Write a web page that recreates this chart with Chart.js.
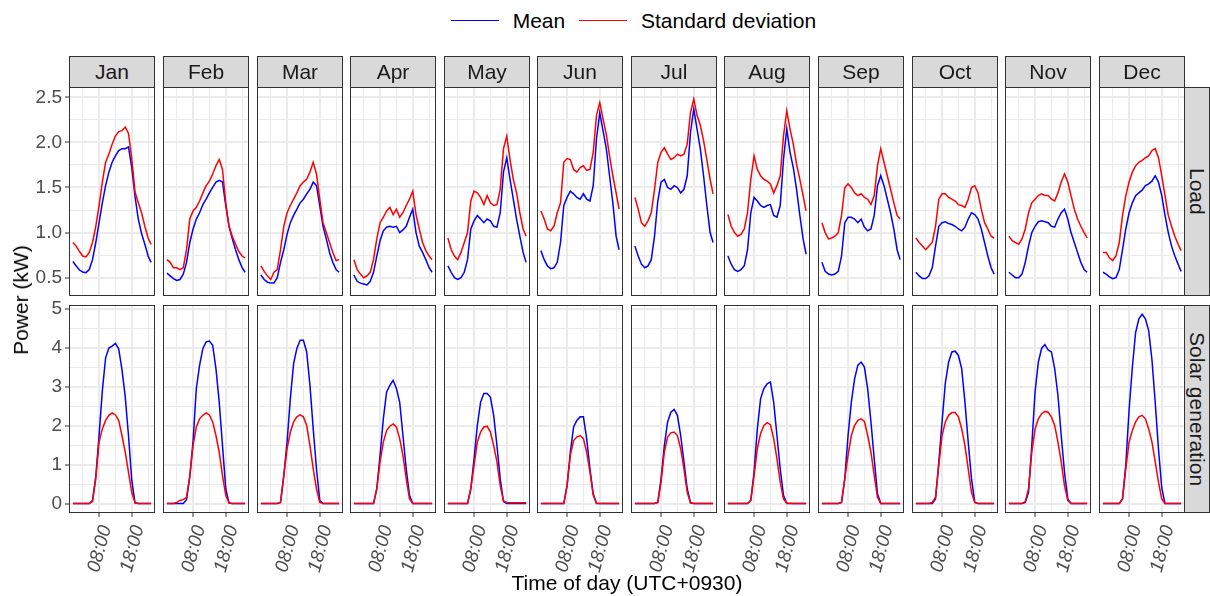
<!DOCTYPE html>
<html>
<head>
<meta charset="utf-8">
<script src="https://cdn.jsdelivr.net/npm/chart.js@4.4.1/dist/chart.umd.min.js"></script>
<style>
  body { margin: 0; background: #fff; font-family: "Liberation Sans", Arial, sans-serif; }
  #wrap { position: relative; width: 1210px; height: 596px; overflow: hidden; }
  .panel { position: absolute; }
  .panel canvas { display: block; }
  .strip { position: absolute; box-sizing: border-box; background: #d9d9d9; border: 1px solid #333;
           color: #1a1a1a; font-size: 21px; line-height: 24px; display: flex; align-items: center; justify-content: center; }
  .vstrip { writing-mode: vertical-rl; }
  .txt { position: absolute; font-size: 21px; line-height: 24px; color: #000; white-space: nowrap; }
  .key { position: absolute; height: 1.4px; }
</style>
</head>
<body>
<div id="wrap"></div>
<script>
// hours of the day at which the curves are sampled (last point = 23:55)
var HOURS = [0, 1, 2, 3, 4, 5, 6, 7, 8, 9, 10, 11, 12, 13, 14, 15, 16, 17, 18, 19, 20, 21, 22, 23, 23.92];
var MONTHS = ['Jan', 'Feb', 'Mar', 'Apr', 'May', 'Jun', 'Jul', 'Aug', 'Sep', 'Oct', 'Nov', 'Dec'];
var ROWS = ['Load', 'Solar generation'];
var SERIES = ['Mean', 'Standard deviation'];
var X_TICKS = [8, 18];
var X_TICK_LABELS = ['08:00', '18:00'];

// Load (kW)
var loadMeanJan = [0.68, 0.63, 0.585, 0.563, 0.556, 0.59, 0.70, 0.89, 1.11, 1.33, 1.52, 1.67, 1.78, 1.85, 1.91, 1.93, 1.93, 1.95, 1.72, 1.40, 1.15, 0.99, 0.87, 0.74, 0.67];
var loadSdJan   = [0.89, 0.85, 0.79, 0.74, 0.73, 0.78, 0.89, 1.07, 1.30, 1.56, 1.78, 1.87, 1.98, 2.07, 2.12, 2.13, 2.17, 2.10, 1.82, 1.45, 1.33, 1.22, 1.07, 0.94, 0.87];
var loadMeanFeb = [0.55, 0.52, 0.49, 0.47, 0.48, 0.54, 0.67, 0.89, 1.04, 1.15, 1.22, 1.31, 1.37, 1.44, 1.50, 1.56, 1.58, 1.56, 1.30, 1.07, 0.93, 0.81, 0.70, 0.61, 0.56];
var loadSdFeb   = [0.70, 0.67, 0.61, 0.61, 0.59, 0.61, 0.81, 1.15, 1.24, 1.28, 1.35, 1.44, 1.52, 1.57, 1.65, 1.74, 1.81, 1.70, 1.33, 1.07, 0.96, 0.87, 0.79, 0.74, 0.72];
var loadMeanMar = [0.53, 0.48, 0.45, 0.44, 0.44, 0.50, 0.67, 0.81, 0.98, 1.11, 1.19, 1.26, 1.33, 1.37, 1.43, 1.48, 1.56, 1.52, 1.30, 1.07, 0.93, 0.78, 0.67, 0.59, 0.56];
var loadSdMar   = [0.63, 0.57, 0.52, 0.48, 0.56, 0.59, 0.81, 1.07, 1.22, 1.30, 1.37, 1.44, 1.52, 1.56, 1.59, 1.67, 1.78, 1.65, 1.37, 1.11, 1.00, 0.89, 0.78, 0.69, 0.70];
var loadMeanApr = [0.53, 0.46, 0.44, 0.43, 0.42, 0.46, 0.56, 0.74, 0.91, 1.02, 1.06, 1.07, 1.06, 1.07, 1.00, 1.03, 1.07, 1.17, 1.26, 1.00, 0.85, 0.78, 0.70, 0.61, 0.56];
var loadSdApr   = [0.70, 0.59, 0.54, 0.50, 0.52, 0.56, 0.70, 0.93, 1.11, 1.17, 1.24, 1.28, 1.20, 1.26, 1.17, 1.22, 1.30, 1.37, 1.46, 1.20, 1.04, 0.89, 0.80, 0.74, 0.70];
var loadMeanMay = [0.63, 0.56, 0.50, 0.48, 0.50, 0.56, 0.70, 1.04, 1.13, 1.19, 1.15, 1.11, 1.15, 1.13, 1.07, 1.06, 1.22, 1.67, 1.83, 1.59, 1.37, 1.15, 0.96, 0.78, 0.67];
var loadSdMay   = [0.94, 0.81, 0.74, 0.70, 0.78, 0.89, 1.00, 1.35, 1.46, 1.44, 1.39, 1.31, 1.41, 1.33, 1.30, 1.31, 1.48, 1.93, 2.07, 1.81, 1.59, 1.44, 1.22, 1.04, 0.96];
var loadMeanJun = [0.80, 0.70, 0.63, 0.60, 0.61, 0.67, 0.89, 1.30, 1.39, 1.46, 1.43, 1.39, 1.37, 1.43, 1.37, 1.35, 1.52, 2.04, 2.33, 2.13, 1.93, 1.63, 1.33, 0.96, 0.81];
var loadSdJun   = [1.24, 1.15, 1.04, 1.02, 1.07, 1.22, 1.33, 1.78, 1.82, 1.81, 1.70, 1.67, 1.72, 1.74, 1.69, 1.70, 1.89, 2.30, 2.44, 2.26, 2.09, 1.85, 1.63, 1.44, 1.26];
var loadMeanJul = [0.85, 0.74, 0.65, 0.61, 0.63, 0.70, 0.96, 1.35, 1.56, 1.59, 1.50, 1.48, 1.52, 1.50, 1.44, 1.48, 1.63, 2.11, 2.37, 2.15, 1.93, 1.63, 1.30, 1.00, 0.89];
var loadSdJul   = [1.39, 1.26, 1.11, 1.07, 1.13, 1.22, 1.48, 1.78, 1.89, 1.94, 1.87, 1.81, 1.83, 1.87, 1.85, 1.87, 1.98, 2.33, 2.48, 2.30, 2.19, 2.02, 1.81, 1.59, 1.43];
var loadMeanAug = [0.74, 0.65, 0.59, 0.57, 0.59, 0.63, 0.81, 1.22, 1.39, 1.35, 1.30, 1.28, 1.30, 1.31, 1.19, 1.17, 1.30, 1.81, 2.15, 1.89, 1.72, 1.48, 1.19, 0.93, 0.76];
var loadSdAug   = [1.20, 1.07, 1.00, 0.96, 0.98, 1.04, 1.22, 1.59, 1.85, 1.70, 1.63, 1.59, 1.57, 1.54, 1.44, 1.52, 1.63, 2.07, 2.35, 2.15, 1.98, 1.76, 1.59, 1.41, 1.24];
var loadMeanSep = [0.67, 0.57, 0.54, 0.53, 0.54, 0.57, 0.74, 1.11, 1.17, 1.17, 1.15, 1.11, 1.15, 1.06, 1.02, 1.04, 1.19, 1.52, 1.63, 1.52, 1.37, 1.22, 1.04, 0.81, 0.70];
var loadSdSep   = [1.11, 1.00, 0.93, 0.94, 0.96, 1.00, 1.19, 1.50, 1.54, 1.50, 1.44, 1.41, 1.43, 1.39, 1.37, 1.31, 1.41, 1.74, 1.93, 1.78, 1.63, 1.48, 1.33, 1.19, 1.15];
var loadMeanOct = [0.56, 0.52, 0.49, 0.49, 0.52, 0.61, 0.85, 1.07, 1.11, 1.12, 1.10, 1.09, 1.07, 1.04, 1.02, 1.06, 1.15, 1.22, 1.20, 1.15, 1.04, 0.89, 0.74, 0.61, 0.54];
var loadSdOct   = [0.94, 0.89, 0.85, 0.81, 0.85, 0.89, 1.07, 1.37, 1.43, 1.43, 1.39, 1.37, 1.35, 1.31, 1.30, 1.28, 1.37, 1.50, 1.52, 1.44, 1.26, 1.11, 1.04, 0.96, 0.94];
var loadMeanNov = [0.56, 0.53, 0.50, 0.50, 0.54, 0.67, 0.85, 1.00, 1.07, 1.12, 1.13, 1.12, 1.11, 1.07, 1.06, 1.15, 1.22, 1.26, 1.15, 1.00, 0.89, 0.78, 0.67, 0.59, 0.56];
var loadSdNov   = [0.96, 0.91, 0.89, 0.87, 0.93, 1.04, 1.22, 1.33, 1.37, 1.41, 1.43, 1.41, 1.41, 1.37, 1.35, 1.44, 1.56, 1.65, 1.56, 1.41, 1.26, 1.15, 1.07, 1.00, 0.94];
var loadMeanDec = [0.56, 0.54, 0.51, 0.49, 0.50, 0.59, 0.81, 1.04, 1.22, 1.33, 1.41, 1.44, 1.47, 1.52, 1.54, 1.57, 1.63, 1.56, 1.41, 1.19, 1.00, 0.85, 0.74, 0.65, 0.57];
var loadSdDec   = [0.78, 0.78, 0.72, 0.69, 0.74, 0.89, 1.19, 1.41, 1.56, 1.67, 1.74, 1.78, 1.80, 1.83, 1.85, 1.91, 1.93, 1.83, 1.63, 1.41, 1.19, 1.07, 0.96, 0.87, 0.80];

// Solar generation (kW)
var solarMeanJan = [0, 0, 0, 0, 0, 0, 0.08, 0.70, 1.75, 2.90, 3.75, 4.00, 4.05, 4.12, 3.98, 3.45, 2.75, 1.75, 0.60, 0.02, 0, 0, 0, 0, 0];
var solarSdJan   = [0, 0, 0, 0, 0, 0, 0.05, 0.64, 1.58, 1.92, 2.14, 2.27, 2.33, 2.28, 2.14, 1.75, 1.32, 0.81, 0.29, 0.02, 0, 0, 0, 0, 0];
var solarMeanFeb = [0, 0, 0, 0, 0, 0, 0.10, 0.70, 1.60, 2.96, 3.56, 3.99, 4.16, 4.18, 4.07, 3.47, 2.61, 1.49, 0.38, 0.01, 0, 0, 0, 0, 0];
var solarSdFeb   = [0, 0, 0, 0.03, 0.08, 0.10, 0.16, 0.70, 1.50, 1.97, 2.18, 2.27, 2.33, 2.28, 2.10, 1.75, 1.32, 0.72, 0.21, 0.02, 0, 0, 0, 0, 0];
var solarMeanMar = [0, 0, 0, 0, 0, 0, 0.03, 0.72, 1.58, 2.70, 3.60, 3.99, 4.20, 4.20, 3.90, 3.04, 1.92, 0.89, 0.08, 0, 0, 0, 0, 0, 0];
var solarSdMar   = [0, 0, 0, 0, 0, 0, 0.03, 0.72, 1.41, 1.84, 2.10, 2.23, 2.28, 2.23, 2.01, 1.49, 0.89, 0.38, 0.03, 0, 0, 0, 0, 0, 0];
var solarMeanApr = [0, 0, 0, 0, 0, 0, 0, 0.38, 1.24, 2.18, 2.87, 3.04, 3.17, 2.96, 2.61, 1.75, 0.89, 0.21, 0, 0, 0, 0, 0, 0, 0];
var solarSdApr   = [0, 0, 0, 0, 0, 0, 0, 0.38, 1.07, 1.58, 1.88, 1.99, 2.05, 1.97, 1.67, 1.24, 0.64, 0.12, 0, 0, 0, 0, 0, 0, 0];
var solarMeanMay = [0, 0, 0, 0, 0, 0, 0, 0.38, 1.15, 2.01, 2.61, 2.83, 2.83, 2.74, 2.27, 1.49, 0.64, 0.05, 0, 0, 0, 0, 0, 0, 0];
var solarSdMay   = [0, 0, 0, 0, 0, 0, 0, 0.38, 0.98, 1.58, 1.84, 1.97, 1.99, 1.84, 1.49, 1.07, 0.46, 0.07, 0.03, 0.02, 0.02, 0.02, 0.02, 0.02, 0.02];
var solarMeanJun = [0, 0, 0, 0, 0, 0, 0, 0, 0.46, 1.32, 1.97, 2.14, 2.23, 2.23, 1.67, 0.89, 0.25, 0, 0, 0, 0, 0, 0, 0, 0];
var solarSdJun   = [0, 0, 0, 0, 0, 0, 0, 0, 0.46, 1.24, 1.62, 1.71, 1.75, 1.67, 1.32, 0.81, 0.21, 0.01, 0, 0, 0, 0, 0, 0, 0];
var solarMeanJul = [0, 0, 0, 0, 0, 0, 0, 0.03, 0.64, 1.49, 2.10, 2.35, 2.42, 2.27, 1.75, 1.07, 0.38, 0.02, 0, 0, 0, 0, 0, 0, 0];
var solarSdJul   = [0, 0, 0, 0, 0, 0, 0, 0.03, 0.55, 1.32, 1.71, 1.82, 1.84, 1.75, 1.41, 0.89, 0.29, 0.02, 0, 0, 0, 0, 0, 0, 0];
var solarMeanAug = [0, 0, 0, 0, 0, 0, 0, 0.08, 0.81, 1.92, 2.70, 2.96, 3.08, 3.13, 2.61, 1.75, 0.89, 0.21, 0, 0, 0, 0, 0, 0, 0];
var solarSdAug   = [0, 0, 0, 0, 0, 0, 0, 0.08, 0.72, 1.41, 1.80, 2.01, 2.08, 2.03, 1.67, 1.15, 0.55, 0.12, 0.01, 0.01, 0, 0, 0, 0, 0];
var solarMeanSep = [0, 0, 0, 0, 0, 0, 0.03, 0.64, 1.75, 2.61, 3.21, 3.56, 3.64, 3.51, 2.95, 2.10, 1.15, 0.25, 0, 0, 0, 0, 0, 0, 0];
var solarSdSep   = [0, 0, 0, 0, 0, 0, 0.03, 0.64, 1.24, 1.75, 2.01, 2.14, 2.18, 2.11, 1.75, 1.32, 0.72, 0.16, 0, 0, 0, 0, 0, 0, 0];
var solarMeanOct = [0, 0, 0, 0, 0, 0, 0.12, 1.07, 2.10, 3.10, 3.64, 3.90, 3.92, 3.81, 3.47, 2.61, 1.58, 0.64, 0.03, 0, 0, 0, 0, 0, 0];
var solarSdOct   = [0, 0, 0, 0, 0, 0.03, 0.16, 0.98, 1.75, 2.10, 2.27, 2.34, 2.34, 2.23, 1.92, 1.49, 0.89, 0.29, 0.03, 0, 0, 0, 0, 0, 0];
var solarMeanNov = [0, 0, 0, 0, 0, 0.03, 0.29, 1.49, 2.87, 3.64, 3.99, 4.09, 3.95, 3.90, 3.47, 2.78, 1.75, 0.81, 0.12, 0, 0, 0, 0, 0, 0];
var solarSdNov   = [0, 0, 0, 0, 0, 0.05, 0.38, 1.32, 1.92, 2.18, 2.31, 2.37, 2.35, 2.23, 2.01, 1.58, 1.07, 0.46, 0.08, 0, 0, 0, 0, 0, 0];
var solarMeanDec = [0, 0, 0, 0, 0, 0, 0.12, 1.00, 2.40, 3.50, 4.40, 4.75, 4.87, 4.75, 4.45, 3.70, 2.60, 1.40, 0.40, 0, 0, 0, 0, 0, 0];
var solarSdDec   = [0, 0, 0, 0, 0, 0, 0.12, 0.89, 1.58, 1.88, 2.10, 2.23, 2.27, 2.18, 1.92, 1.58, 1.07, 0.55, 0.12, 0, 0, 0, 0, 0, 0];

var LOAD_MEAN = [loadMeanJan, loadMeanFeb, loadMeanMar, loadMeanApr, loadMeanMay, loadMeanJun, loadMeanJul, loadMeanAug, loadMeanSep, loadMeanOct, loadMeanNov, loadMeanDec];
var LOAD_SD = [loadSdJan, loadSdFeb, loadSdMar, loadSdApr, loadSdMay, loadSdJun, loadSdJul, loadSdAug, loadSdSep, loadSdOct, loadSdNov, loadSdDec];
var SOLAR_MEAN = [solarMeanJan, solarMeanFeb, solarMeanMar, solarMeanApr, solarMeanMay, solarMeanJun, solarMeanJul, solarMeanAug, solarMeanSep, solarMeanOct, solarMeanNov, solarMeanDec];
var SOLAR_SD = [solarSdJan, solarSdFeb, solarSdMar, solarSdApr, solarSdMay, solarSdJun, solarSdJul, solarSdAug, solarSdSep, solarSdOct, solarSdNov, solarSdDec];

// layout
var FONT = '"Liberation Sans", Arial, sans-serif';
var BLUE = '#0000FF', RED = '#FF0000';
var PANEL_W = 86, COL_STEP = 93.6, FIRST_LEFT = 69.3;
var ROW_TOP = [87, 305], ROW_H = [209, 208];
var Y_AXIS_W = 69, X_AXIS_H = 75, TOP_ROOM = 12;
var X_MIN = -1.196, X_MAX = 25.11;
var Y_RANGE = [[0.297, 2.614], [-0.243, 5.108]];
var X_GRID = [3, 8, 13, 18, 23];
var Y_GRID = [
  [0.5, 0.75, 1, 1.25, 1.5, 1.75, 2, 2.25, 2.5],
  [0, 0.5, 1, 1.5, 2, 2.5, 3, 3.5, 4, 4.5, 5]
];

var wrap = document.getElementById('wrap');

function colLeft(i) { return Math.round(FIRST_LEFT + i * COL_STEP); }

function addText(cls, text, css) {
  var d = document.createElement('div');
  d.className = cls;
  d.textContent = text;
  for (var k in css) d.style[k] = css[k];
  wrap.appendChild(d);
  return d;
}

// frame around each panel
var panelBorder = {
  id: 'panelBorder',
  afterDraw: function (chart) {
    var a = chart.chartArea, c = chart.ctx;
    c.save();
    c.strokeStyle = '#333333';
    c.lineWidth = 1;
    c.strokeRect(a.left + 0.5, a.top + 0.5, a.right - a.left - 1, a.bottom - a.top - 1);
    c.restore();
  }
};

function isMajorY(row, v) {
  return row === 0 ? Math.abs(v * 2 - Math.round(v * 2)) < 1e-6 : Math.abs(v - Math.round(v)) < 1e-6;
}

function makePanel(col, row) {
  var isLeft = col === 0, isBottom = row === 1;
  var yw = isLeft ? Y_AXIS_W : 0, xh = isBottom ? X_AXIS_H : 0;
  var top = isLeft ? TOP_ROOM : 0;   // room for the top tick label
  var w = PANEL_W + yw, h = ROW_H[row] + xh + top;

  var div = document.createElement('div');
  div.className = 'panel';
  div.style.left = (colLeft(col) - yw) + 'px';
  div.style.top = (ROW_TOP[row] - top) + 'px';
  div.style.width = w + 'px';
  div.style.height = h + 'px';
  var canvas = document.createElement('canvas');
  canvas.width = w;
  canvas.height = h;
  div.appendChild(canvas);
  wrap.appendChild(div);

  var mean = row === 0 ? LOAD_MEAN[col] : SOLAR_MEAN[col];
  var sd = row === 0 ? LOAD_SD[col] : SOLAR_SD[col];

  new Chart(canvas, {
    type: 'line',
    data: {
      datasets: [
        { label: SERIES[0], data: HOURS.map(function (x, k) { return { x: x, y: mean[k] }; }), borderColor: BLUE, order: 1 },
        { label: SERIES[1], data: HOURS.map(function (x, k) { return { x: x, y: sd[k] }; }), borderColor: RED, order: 0 }
      ]
    },
    options: {
      responsive: false,
      animation: false,
      devicePixelRatio: 1,
      events: [],
      layout: { padding: { top: top, left: 0, right: 0, bottom: 0 } },
      elements: { point: { radius: 0 }, line: { borderWidth: 1.5, tension: 0 } },
      plugins: { legend: { display: false }, tooltip: { enabled: false } },
      scales: {
        x: {
          type: 'linear', min: X_MIN, max: X_MAX,
          afterBuildTicks: function (s) { s.ticks = X_GRID.map(function (v) { return { value: v }; }); },
          afterFit: function (s) { s.height = xh; s.paddingLeft = 0; s.paddingRight = 0; },
          border: { display: false },
          grid: {
            color: '#EBEBEB',
            lineWidth: function (c) { return c.tick && X_TICKS.indexOf(c.tick.value) >= 0 ? 2 : 1; },
            drawTicks: isBottom, tickLength: 4, tickWidth: 1,
            tickColor: function (c) { return c.tick && X_TICKS.indexOf(c.tick.value) >= 0 ? '#333333' : 'rgba(0,0,0,0)'; }
          },
          ticks: {
            display: isBottom, autoSkip: false, minRotation: 75, maxRotation: 75,
            padding: 6, labelOffset: 7, color: '#4D4D4D',
            font: { family: FONT, size: 19, style: 'italic' },
            callback: function (v) { var i = X_TICKS.indexOf(v); return i >= 0 ? X_TICK_LABELS[i] : ''; }
          }
        },
        y: {
          type: 'linear', min: Y_RANGE[row][0], max: Y_RANGE[row][1],
          afterBuildTicks: function (s) { s.ticks = Y_GRID[row].map(function (v) { return { value: v }; }); },
          afterFit: function (s) { s.width = yw; s.paddingTop = 0; s.paddingBottom = 0; },
          border: { display: false },
          grid: {
            color: '#EBEBEB',
            lineWidth: function (c) { return c.tick && isMajorY(row, c.tick.value) ? 2 : 1; },
            drawTicks: isLeft, tickLength: 4, tickWidth: 1,
            tickColor: function (c) { return c.tick && isMajorY(row, c.tick.value) ? '#333333' : 'rgba(0,0,0,0)'; }
          },
          ticks: {
            display: isLeft, autoSkip: false, padding: 3, color: '#4D4D4D',
            font: { family: FONT, size: 19 },
            callback: function (v) {
              if (!isMajorY(row, v)) return '';
              return row === 0 ? v.toFixed(1) : String(Math.round(v));
            }
          }
        }
      }
    },
    plugins: [panelBorder]
  });
}

for (var r = 0; r < ROWS.length; r++) {
  for (var c = 0; c < MONTHS.length; c++) makePanel(c, r);
}

// month strips on top
MONTHS.forEach(function (m, i) {
  addText('strip', m, { left: colLeft(i) + 'px', top: '56px', width: PANEL_W + 'px', height: '32px' });
});
// row strips on the right
ROWS.forEach(function (name, r) {
  addText('strip vstrip', name, { left: '1184px', top: ROW_TOP[r] + 'px', width: '26px', height: ROW_H[r] + 'px' });
});

// axis titles
addText('txt', 'Time of day (UTC+0930)', { left: '627px', top: '571px', transform: 'translateX(-50%)' });
addText('txt', 'Power (kW)', { left: '21px', top: '300px', transform: 'translate(-50%, -50%) rotate(-90deg)' });

// legend
var keys = [
  { color: BLUE, line: 451, text: 512.7 },
  { color: RED, line: 579, text: 641 }
];
keys.forEach(function (k, i) {
  var l = document.createElement('div');
  l.className = 'key';
  l.style.left = k.line + 'px';
  l.style.top = '19.6px';
  l.style.width = '48px';
  l.style.background = k.color;
  wrap.appendChild(l);
  addText('txt', SERIES[i], { left: k.text + 'px', top: '9px' });
});
</script>
</body>
</html>
